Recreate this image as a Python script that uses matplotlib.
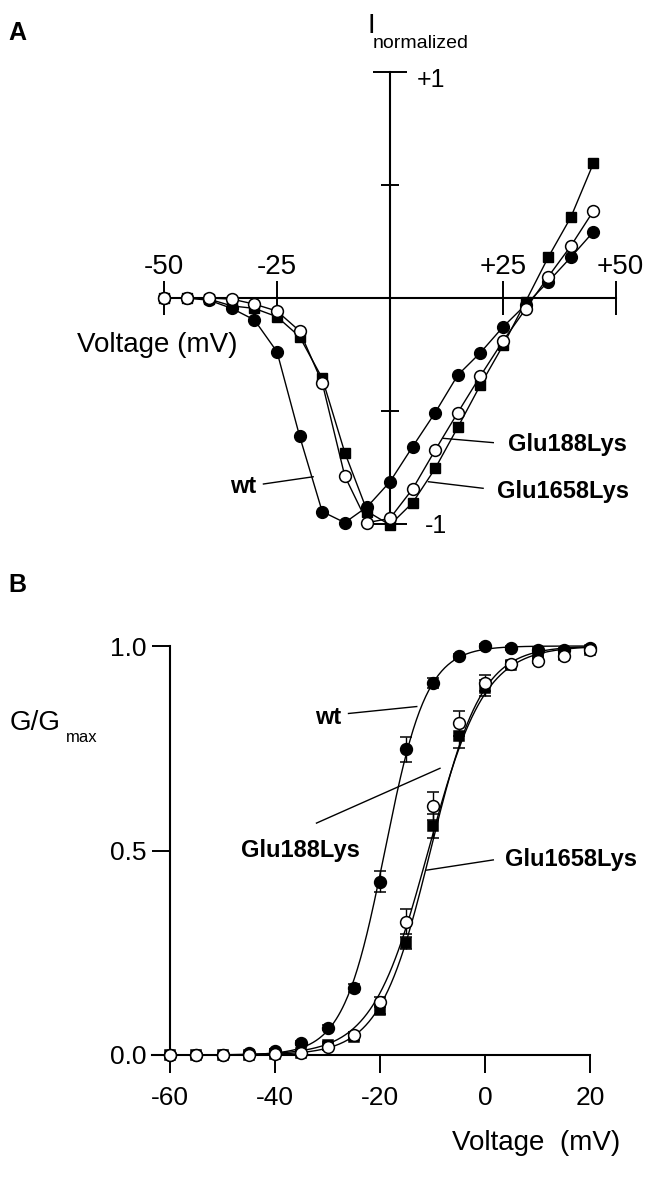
import numpy as np
import matplotlib
matplotlib.use("Agg")
import matplotlib.pyplot as plt
from matplotlib.ticker import NullLocator

plt.rcParams['font.family'] = ['Liberation Sans', 'DejaVu Sans']
plt.rcParams['axes.unicode_minus'] = False

W, H = 647, 1178

# Panel A: normalized current-voltage relations
volt_a = [-50, -45, -40, -35, -30, -25, -20, -15, -10, -5, 0, 5, 10, 15, 20, 25, 30, 35, 40, 45]
i_wt = [0.0, 0.0, -0.01, -0.046, -0.097, -0.238, -0.611, -0.945, -0.994, -0.923,
        -0.813, -0.658, -0.507, -0.341, -0.242, -0.128, -0.03, 0.072, 0.18, 0.293]
i_e188k = [0.0, 0.0, 0.0, -0.005, -0.027, -0.058, -0.146, -0.375, -0.788, -0.994,
           -0.975, -0.845, -0.673, -0.507, -0.345, -0.19, -0.049, 0.094, 0.23, 0.385]
i_e1658k = [0.0, 0.0, -0.005, -0.035, -0.046, -0.083, -0.171, -0.355, -0.684, -0.945,
            -1.004, -0.906, -0.754, -0.572, -0.385, -0.21, -0.016, 0.18, 0.357, 0.596]

# Panel B: conductance-voltage relations
volt_b = [-60, -55, -50, -45, -40, -35, -30, -25, -20, -15, -10, -5, 0, 5, 10, 15, 20]
g_wt = [0.0, 0.0, 0.0, 0.005, 0.01, 0.029, 0.067, 0.163, 0.424, 0.747, 0.91, 0.975,
        1.0, 0.995, 0.99, 0.99, 0.995]
g_e188k = [0.0, 0.0, 0.0, 0.0, 0.003, 0.005, 0.02, 0.049, 0.13, 0.326, 0.609, 0.811,
           0.909, 0.955, 0.964, 0.975, 0.99]
g_e1658k = [0.0, 0.0, 0.0, 0.0, 0.002, 0.005, 0.024, 0.045, 0.11, 0.273, 0.56, 0.78,
            0.897, 0.953, 0.97, 0.978, 0.99]
err_wt = [0.003, 0.003, 0.003, 0.003, 0.004, 0.005, 0.006, 0.01, 0.025, 0.03, 0.012, 0.006,
          0.004, 0.004, 0.004, 0.004, 0.004]
err_e188k = [0.003, 0.003, 0.003, 0.003, 0.004, 0.005, 0.008, 0.008, 0.012, 0.03, 0.035, 0.03,
             0.02, 0.008, 0.006, 0.006, 0.006]
err_e1658k = [0.003, 0.003, 0.003, 0.003, 0.004, 0.005, 0.008, 0.008, 0.01, 0.015, 0.03, 0.03,
              0.02, 0.008, 0.006, 0.006, 0.006]


def fxy(x, y):
    # pixel position -> figure fraction
    return x / W, 1 - y / H


def boltzmann_fit(v, g):
    v = np.asarray(v, float)
    g = np.asarray(g, float)
    m = (g > 0.03) & (g < 0.97)
    slope, icpt = np.polyfit(v[m], np.log(g[m] / (1 - g[m])), 1)
    vf = np.linspace(-60, 20, 400)
    return vf, 1 / (1 + np.exp(-(slope * vf + icpt)))


fig = plt.figure(figsize=(W / 100, H / 100), dpi=100)

# ---------------- Panel A ----------------
axA = fig.add_axes([0, 1 - 560 / H, 1, 560 / H])
axA.set_xlim(-390 / 4.52, 257 / 4.52)
axA.set_ylim(-(560 - 298) / 226, 298 / 226)
axA.patch.set_visible(False)
for s in ['top', 'right']:
    axA.spines[s].set_visible(False)
axA.spines['left'].set_position(('data', 0))
axA.spines['bottom'].set_position(('data', 0))
axA.spines['left'].set_bounds(-1, 1)
axA.spines['bottom'].set_bounds(-50, 50)
axA.spines['left'].set_linewidth(1.5)
axA.spines['bottom'].set_linewidth(1.5)
axA.set_xticks([-50, -25, 25, 50])
axA.set_yticks([-1, 1])
axA.set_yticks([-0.5, 0.5], minor=True)
axA.xaxis.set_minor_locator(NullLocator())
axA.tick_params(axis='x', direction='inout', length=24, width=1.4, labelbottom=False)
axA.tick_params(axis='y', which='major', direction='inout', length=24, width=1.4, labelleft=False)
axA.tick_params(axis='y', which='minor', direction='inout', length=13, width=1.4)

axA.plot(volt_a, i_wt, color='k', lw=1, marker='o', ms=8.5, mfc='k', mec='k', zorder=3)
axA.plot(volt_a, i_e1658k, color='k', lw=1, marker='s', ms=7, mfc='k', mec='k', zorder=4)
axA.plot(volt_a, i_e188k, color='k', lw=1, marker='o', ms=8.5, mfc='white', mec='k',
         mew=1.1, zorder=5)

for v, s in zip([-50, -25, 25, 51], ['-50', '-25', '+25', '+50']):
    axA.text(v, 0.138, s, ha='center', va='center', fontsize=20)
axA.text(-69.2, -0.208, 'Voltage (mV)', ha='left', va='center', fontsize=20)
axA.text(-4.9, 1.172, 'I', ha='left', va='baseline', fontsize=20)
axA.text(-3.8, 1.106, 'normalized', ha='left', va='baseline', fontsize=14)
axA.text(5.9, 0.965, '+1', ha='left', va='center', fontsize=18)
axA.text(7.7, -1.009, '-1', ha='left', va='center', fontsize=18)

axA.text(-32.5, -0.836, 'wt', ha='center', va='center', fontsize=17, fontweight='bold')
axA.plot([-28.0, -17.0], [-0.823, -0.791], color='k', lw=1)
axA.text(26.2, -0.65, 'Glu188Lys', ha='left', va='center', fontsize=17, fontweight='bold')
axA.plot([22.85, 11.8], [-0.640, -0.621], color='k', lw=1)
axA.text(23.6, -0.854, 'Glu1658Lys', ha='left', va='center', fontsize=17, fontweight='bold')
axA.plot([20.6, 8.5], [-0.842, -0.813], color='k', lw=1)

# ---------------- Panel B ----------------
axB = fig.add_axes([152 / W, 1 - 1055 / H, (590 - 152) / W, (1055 - 646) / H])
axB.set_xlim(-63.43, 20)
axB.set_ylim(0, 1.0)
axB.patch.set_visible(False)
for s in ['top', 'right']:
    axB.spines[s].set_visible(False)
axB.spines['left'].set_position(('data', -60))
axB.spines['left'].set_linewidth(1.5)
axB.spines['bottom'].set_linewidth(1.5)
axB.set_xticks([-60, -40, -20, 0, 20])
axB.set_xticklabels(['-60', '-40', '-20', '0', '20'])
axB.set_yticks([0, 0.5, 1.0])
axB.set_yticklabels(['0.0', '0.5', '1.0'])
axB.tick_params(axis='both', direction='out', length=13, width=1.4, labelsize=19)
axB.tick_params(axis='x', pad=9)
axB.tick_params(axis='y', pad=4)

for g in [g_wt, g_e188k, g_e1658k]:
    vf, gf = boltzmann_fit(volt_b, g)
    axB.plot(vf, gf, color='k', lw=1, zorder=2, clip_on=False)

series_b = [
    (g_wt, err_wt, 'o', 'k', 8.5),
    (g_e1658k, err_e1658k, 's', 'k', 7),
    (g_e188k, err_e188k, 'o', 'white', 8.5),
]
for g, e, mk, fc, ms in series_b:
    eb = axB.errorbar(volt_b, g, yerr=e, fmt=mk, ms=ms, mfc=fc, mec='k', mew=1.1,
                      ecolor='k', elinewidth=1, capsize=4, capthick=1, zorder=4)
    for art in eb.get_children():
        art.set_clip_on(False)

axB.text(-32.4, 0.826, 'wt', ha='left', va='center', fontsize=17, fontweight='bold')
axB.plot([-26.0, -13.0], [0.835, 0.852], color='k', lw=1, clip_on=False)
axB.text(-23.8, 0.501, 'Glu188Lys', ha='right', va='center', fontsize=17, fontweight='bold')
axB.plot([-32.1, -8.57], [0.567, 0.701], color='k', lw=1, clip_on=False)
axB.text(3.8, 0.477, 'Glu1658Lys', ha='left', va='center', fontsize=17, fontweight='bold')
axB.plot([1.58, -11.1], [0.477, 0.452], color='k', lw=1, clip_on=False)

fig.text(*fxy(452, 1143), 'Voltage  (mV)', ha='left', va='center', fontsize=20)
fig.text(*fxy(10, 723), 'G/G', ha='left', va='center', fontsize=20)
fig.text(*fxy(66, 737), 'max', ha='left', va='center', fontsize=12)

fig.text(*fxy(8, 33), 'A', ha='left', va='center', fontsize=18, fontweight='bold')
fig.text(*fxy(8, 585), 'B', ha='left', va='center', fontsize=18, fontweight='bold')

fig.savefig('out.png', dpi=100)
